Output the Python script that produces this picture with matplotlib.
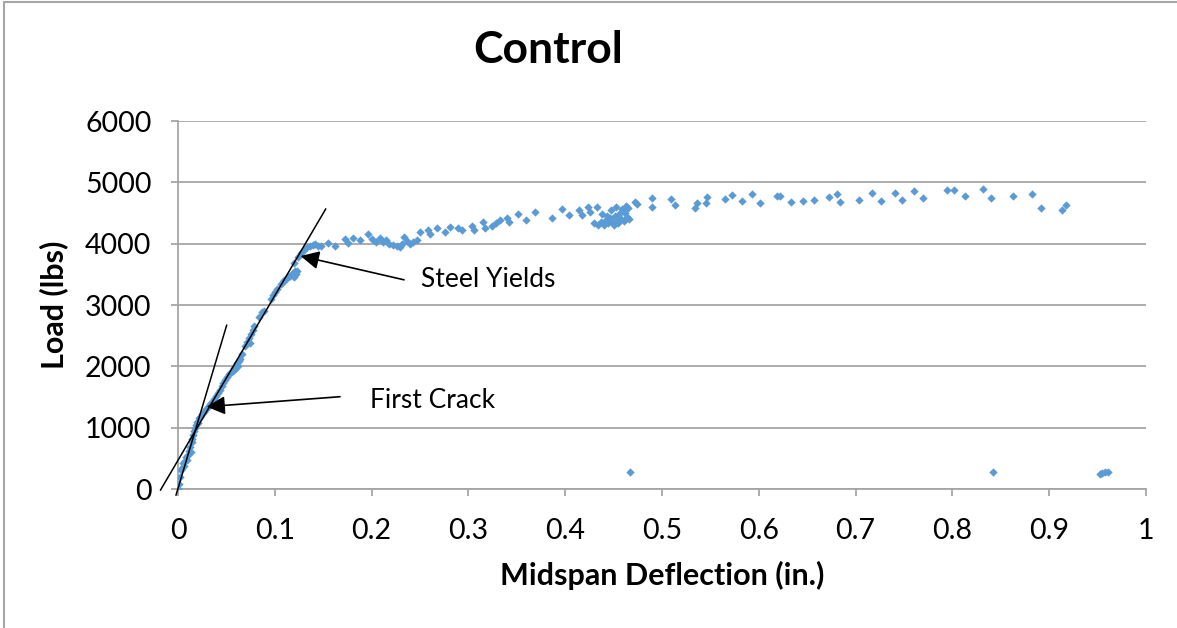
import matplotlib.pyplot as plt
from matplotlib.patches import Rectangle

# midspan deflection (in.) and load (lbs)
defl = [0.000, 0.001, 0.002, 0.003, 0.004, 0.005, 0.006, 0.007, 0.008, 0.009,
        0.010, 0.011, 0.012, 0.013, 0.014, 0.015, 0.016, 0.017, 0.018, 0.019,
        0.020, 0.021, 0.022, 0.023, 0.025, 0.027, 0.029, 0.031, 0.033, 0.035,
        0.037, 0.039, 0.041, 0.043, 0.045, 0.047, 0.049, 0.051, 0.053, 0.055,
        0.057, 0.058, 0.059, 0.060, 0.061, 0.062, 0.063, 0.064, 0.066, 0.069,
        0.071, 0.073, 0.074, 0.075, 0.077, 0.079, 0.084, 0.087, 0.089, 0.096,
        0.098, 0.100, 0.102, 0.106, 0.108, 0.110, 0.112, 0.114, 0.116, 0.118,
        0.119, 0.120, 0.121, 0.122, 0.123, 0.120, 0.124, 0.127, 0.130, 0.133,
        0.136, 0.139, 0.142, 0.145, 0.148,
        0.155, 0.162, 0.173, 0.176, 0.181, 0.188, 0.196, 0.200, 0.205, 0.209,
        0.212, 0.215, 0.218, 0.222, 0.226, 0.229, 0.231, 0.234, 0.237, 0.240,
        0.243, 0.247, 0.250, 0.258, 0.260, 0.268, 0.276, 0.281, 0.289, 0.293,
        0.304, 0.306, 0.315, 0.317, 0.324, 0.329, 0.333, 0.340, 0.342, 0.351,
        0.360, 0.369, 0.386, 0.397, 0.404, 0.414, 0.417, 0.424, 0.426, 0.433,
        0.430, 0.434, 0.437, 0.440, 0.442, 0.444, 0.446, 0.448, 0.450, 0.451,
        0.453, 0.455, 0.456, 0.458, 0.459, 0.461, 0.462, 0.463, 0.464, 0.465,
        0.466, 0.447, 0.452, 0.438, 0.443,
        0.472, 0.474, 0.490, 0.490, 0.509, 0.513, 0.534, 0.536, 0.545, 0.546,
        0.565, 0.572, 0.583, 0.593, 0.601, 0.619, 0.622, 0.633, 0.646, 0.657,
        0.673, 0.681, 0.684, 0.704, 0.717, 0.726, 0.741, 0.748, 0.760, 0.770,
        0.794, 0.802, 0.813, 0.832, 0.840, 0.863, 0.882, 0.892, 0.913, 0.917,
        0.467, 0.842, 0.952, 0.955, 0.958, 0.961]
load = [0, 80, 200, 310, 350, 420, 380, 460, 520, 480,
        560, 620, 690, 600, 760, 820, 880, 940, 1000, 1050,
        1100, 1080, 1150, 1180, 1230, 1260, 1300, 1340, 1380, 1420,
        1470, 1520, 1560, 1620, 1680, 1730, 1780, 1830, 1870, 1900,
        1930, 1980, 1950, 2010, 2050, 2000, 2080, 2120, 2200, 2330,
        2400, 2460, 2380, 2520, 2600, 2660, 2800, 2880, 2900, 3100,
        3160, 3220, 3260, 3350, 3380, 3400, 3420, 3450, 3480, 3500,
        3530, 3460, 3550, 3510, 3560, 3690, 3780, 3850, 3900, 3940,
        3960, 3980, 3990, 3970, 3960,
        4010, 3960, 4080, 4010, 4090, 4060, 4160, 4080, 4020, 4090,
        4030, 4060, 4000, 3980, 3960, 3950, 4000, 4110, 4040, 3990,
        4020, 4060, 4190, 4220, 4150, 4260, 4190, 4270, 4250, 4220,
        4290, 4220, 4350, 4250, 4290, 4330, 4390, 4420, 4350, 4490,
        4390, 4520, 4420, 4570, 4470, 4550, 4470, 4600, 4510, 4600,
        4330, 4300, 4350, 4310, 4380, 4330, 4420, 4360, 4300, 4450,
        4390, 4340, 4480, 4410, 4560, 4370, 4500, 4620, 4440, 4580,
        4400, 4550, 4600, 4480, 4450,
        4680, 4650, 4750, 4600, 4730, 4630, 4580, 4670, 4670, 4760,
        4730, 4800, 4700, 4810, 4660, 4780, 4780, 4680, 4700, 4710,
        4760, 4810, 4680, 4710, 4830, 4700, 4830, 4710, 4860, 4750,
        4870, 4870, 4780, 4890, 4750, 4780, 4810, 4580, 4550, 4630,
        280, 280, 240, 260, 280, 270]

# hand-drawn tangent lines (x pair, y pair)
tan1_x = [-0.002, 0.0503]
tan1_y = [-98, 2670]
tan2_x = [-0.018, 0.1526]
tan2_y = [-16, 4565]

plt.rcParams['font.family'] = ['Lato', 'DejaVu Sans']

fig = plt.figure(figsize=(11.77, 6.28), dpi=100)
ax = fig.add_axes([0.1512, 0.2213, 0.8225, 0.586])

ax.scatter(defl, load, marker='D', s=18, color='#5B9BD5', linewidths=0, zorder=3)

ax.plot(tan1_x, tan1_y, color='black', lw=1.1, clip_on=False, zorder=4)
ax.plot(tan2_x, tan2_y, color='black', lw=1.1, clip_on=False, zorder=4)

arrow = dict(arrowstyle='-|>', mutation_scale=28, color='black', lw=1.2,
             shrinkA=0, shrinkB=0)
ax.annotate('', xy=(0.0296, 1342), xytext=(0.1674, 1505), arrowprops=arrow, zorder=5)
ax.text(0.198, 1451, 'First Crack', fontsize=19, va='center', ha='left')
ax.annotate('', xy=(0.1267, 3799), xytext=(0.2335, 3411), arrowprops=arrow, zorder=5)
ax.text(0.251, 3408, 'Steel Yields', fontsize=19, va='center', ha='left')

ax.set_xlim(0, 1)
ax.set_ylim(0, 6000)
ax.set_xticks([i / 10 for i in range(11)])
ax.set_xticklabels(['0', '0.1', '0.2', '0.3', '0.4', '0.5', '0.6', '0.7', '0.8', '0.9', '1'])
ax.set_yticks(range(0, 6001, 1000))
ax.tick_params(axis='both', labelsize=20.5, direction='out', length=5, width=1.3,
               color='#A6A6A6')
ax.tick_params(axis='y', pad=14)
ax.tick_params(axis='x', pad=16)
ax.yaxis.grid(True, color='#A6A6A6', lw=1.3)
ax.set_axisbelow(True)
for s in ['top', 'right']:
    ax.spines[s].set_visible(False)
for s in ['left', 'bottom']:
    ax.spines[s].set_color('#A6A6A6')
    ax.spines[s].set_linewidth(1.3)

ax.set_xlabel('Midspan Deflection (in.)', fontsize=22, fontweight='bold', labelpad=12)
ax.set_ylabel('Load (lbs)', fontsize=22, fontweight='bold', labelpad=12)
fig.text(0.466, 0.92, 'Control', fontsize=32, fontweight='bold', ha='center', va='center')

fig.patches.append(Rectangle((4 / 1177, -0.1), 1.2, 1.0968, transform=fig.transFigure,
                             fill=False, edgecolor='#A6A6A6', lw=1.5))

fig.savefig('out.png', dpi=100)
